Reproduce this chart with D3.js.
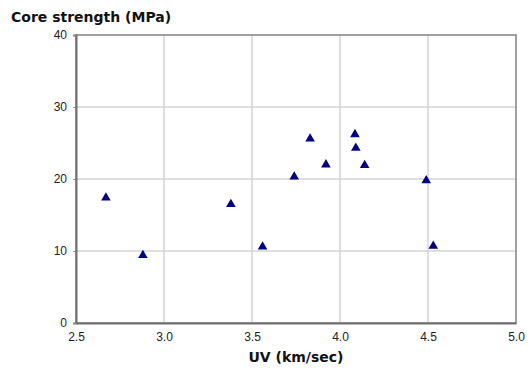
<!DOCTYPE html>
<html>
<head>
<meta charset="utf-8">
<script src="https://cdn.jsdelivr.net/npm/d3@7"></script>
<style>
  body { margin: 0; background: #fff; }
  text { font-family: "DejaVu Sans", sans-serif; }
</style>
</head>
<body>
<div id="chart"></div>
<script>
// Data
var uv = [2.67, 2.88, 3.38, 3.56, 3.74, 3.83, 3.92, 4.085, 4.09, 4.14, 4.49, 4.53];
var strength = [17.4, 9.4, 16.5, 10.6, 20.3, 25.6, 22.0, 26.2, 24.3, 21.9, 19.8, 10.7];
var xTicks = [2.5, 3.0, 3.5, 4.0, 4.5, 5.0];
var yTicks = [0, 10, 20, 30, 40];

var margin = {top: 35, right: 16, bottom: 48, left: 76},
    width = 532 - margin.left - margin.right,
    height = 371 - margin.top - margin.bottom;

var svg = d3.select("#chart")
  .append("svg")
    .attr("width", 532)
    .attr("height", 371);

var g = svg.append("g")
    .attr("transform", "translate(" + margin.left + "," + margin.top + ")");

var x = d3.scaleLinear().domain([2.5, 5.0]).range([0, width]);
var y = d3.scaleLinear().domain([0, 40]).range([height, 0]);

// Grid lines
g.selectAll(".vgrid")
  .data(xTicks.slice(1, -1))
  .enter().append("line")
    .attr("x1", d => x(d)).attr("x2", d => x(d))
    .attr("y1", 0).attr("y2", height)
    .attr("stroke", "#d4d4d4").attr("stroke-width", 1.5);

g.selectAll(".hgrid")
  .data(yTicks.slice(1, -1))
  .enter().append("line")
    .attr("x1", 0).attr("x2", width)
    .attr("y1", d => y(d)).attr("y2", d => y(d))
    .attr("stroke", "#d4d4d4").attr("stroke-width", 1.5);

// Frame
g.append("rect")
  .attr("x", 0).attr("y", 0)
  .attr("width", width).attr("height", height)
  .attr("fill", "none")
  .attr("stroke", "#808080").attr("stroke-width", 1.5);

// Axes
var xAxis = g.append("g")
  .attr("transform", "translate(0," + height + ")")
  .call(d3.axisBottom(x).tickValues(xTicks).tickFormat(d3.format(".1f")).tickSize(0).tickPadding(9));
xAxis.select(".domain").attr("stroke", "#707070").attr("stroke-width", 2);
xAxis.selectAll("text").attr("font-size", 12).attr("fill", "#222")
  .style("font-family", "'Liberation Sans', Arial, sans-serif");

var yAxis = g.append("g")
  .call(d3.axisLeft(y).tickValues(yTicks).tickSize(3).tickPadding(6));
yAxis.select(".domain").attr("stroke", "#707070").attr("stroke-width", 2);
yAxis.selectAll(".tick line").attr("stroke", "#909090");
yAxis.selectAll("text").attr("font-size", 12).attr("fill", "#222")
  .style("font-family", "'Liberation Sans', Arial, sans-serif");

// Points
var tri = d3.symbol().type(d3.symbolTriangle).size(40);
g.selectAll(".pt")
  .data(uv)
  .enter().append("path")
    .attr("d", tri)
    .attr("transform", (d, i) => "translate(" + x(d) + "," + y(strength[i]) + ")")
    .attr("fill", "#000080");

// Titles
svg.append("text")
  .attr("x", 11).attr("y", 22)
  .attr("font-size", 14).attr("font-weight", "bold")
  .attr("fill", "#111")
  .text("Core strength (MPa)");

svg.append("text")
  .attr("x", margin.left + width / 2).attr("y", 362)
  .attr("text-anchor", "middle")
  .attr("font-size", 14).attr("font-weight", "bold")
  .attr("fill", "#111")
  .text("UV (km/sec)");
</script>
</body>
</html>
